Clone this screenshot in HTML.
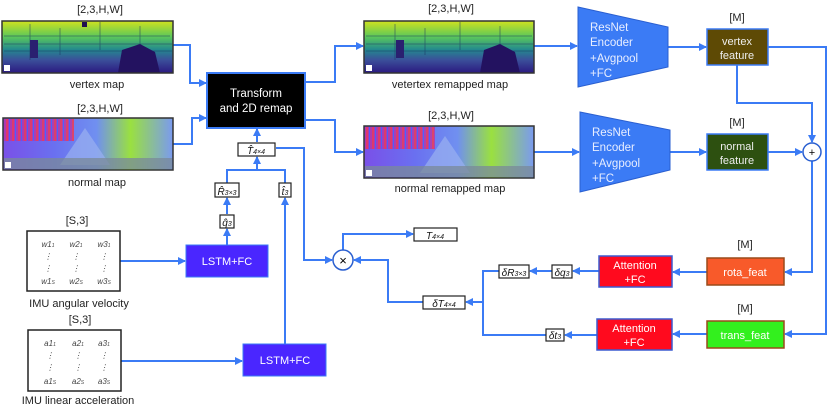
<!DOCTYPE html>
<html><head><meta charset="utf-8"><style>
html,body{margin:0;padding:0;background:#fff;}
svg{display:block;}
text{font-family:"Liberation Sans",sans-serif;}
.m{font-family:"Liberation Serif",serif;font-style:italic;}
</style></head><body>
<svg width="830" height="407" viewBox="0 0 830 407" xmlns="http://www.w3.org/2000/svg">
<defs>
<marker id="a" markerWidth="8" markerHeight="8" refX="7" refY="4" orient="auto" markerUnits="userSpaceOnUse"><path d="M0,0 L8,4 L0,8 z" fill="#3b7bf5"/></marker>
<linearGradient id="gv" x1="0" y1="0" x2="0" y2="1"><stop offset="0" stop-color="#d0e21e"/><stop offset="0.3" stop-color="#5cc85a"/><stop offset="0.55" stop-color="#23898e"/><stop offset="0.75" stop-color="#3b4f9a"/><stop offset="1" stop-color="#2b1a80"/></linearGradient>
<linearGradient id="gn" x1="0" y1="0" x2="1" y2="0"><stop offset="0" stop-color="#7a50e8"/><stop offset="0.3" stop-color="#6a70f0"/><stop offset="0.55" stop-color="#7090f0"/><stop offset="0.75" stop-color="#9ae040"/><stop offset="1" stop-color="#7a9af0"/></linearGradient>
<pattern id="stripes" width="6" height="4" patternUnits="userSpaceOnUse"><rect width="6" height="4" fill="#c030a0"/><rect width="2" height="4" fill="#ff3040"/><rect x="3" width="1" height="4" fill="#4060ff"/></pattern>
</defs>
<g fill="none" stroke="#3b7bf5" stroke-width="2">
<path d="M173,45 H190 V83 H206" marker-end="url(#a)"/>
<path d="M173,144 H192 V118 H206" marker-end="url(#a)"/>
<path d="M305,82 H335 V46 H363" marker-end="url(#a)"/>
<path d="M305,120 H335 V152 H363" marker-end="url(#a)"/>
<path d="M534,46 H577" marker-end="url(#a)"/>
<path d="M534,152 H579" marker-end="url(#a)"/>
<path d="M668,47 H706" marker-end="url(#a)"/>
<path d="M670,152 H706" marker-end="url(#a)"/>
<path d="M768,47 H826 V334 H785" marker-end="url(#a)"/>
<path d="M737,65 V103 H812 V142" marker-end="url(#a)"/>
<path d="M768,152 H802" marker-end="url(#a)"/>
<path d="M812,161 V272 H785" marker-end="url(#a)"/>
<path d="M707,272 H673" marker-end="url(#a)"/>
<path d="M707,334 H673" marker-end="url(#a)"/>
<path d="M599,271 H573" marker-end="url(#a)"/>
<path d="M552,271 H530" marker-end="url(#a)"/>
<path d="M597,335 H565" marker-end="url(#a)"/>
<path d="M499,271 H483 V335 H546"/>
<path d="M483,302 H466" marker-end="url(#a)"/>
<path d="M423,302 H388 V260 H354" marker-end="url(#a)"/>
<path d="M343,250 V234 H413" marker-end="url(#a)"/>
<path d="M276,148 H304 V260 H332" marker-end="url(#a)"/>
<path d="M257,142 V129" marker-end="url(#a)"/>
<path d="M227,183 V170 H285 V183 M257,170 V157" marker-end="url(#a)"/>
<path d="M227,214 V198" marker-end="url(#a)"/>
<path d="M227,245 V229" marker-end="url(#a)"/>
<path d="M285,344 V198" marker-end="url(#a)"/>
<path d="M120,261 H185" marker-end="url(#a)"/>
<path d="M121,361 H242" marker-end="url(#a)"/>
</g>
<!-- images -->
<g>
<rect x="2" y="21" width="171" height="52" fill="url(#gv)"/>
<g stroke="#1a3060" stroke-width="0.8" opacity="0.6"><path d="M4,36 H170 M4,44 H172 M4,51 H172 M30,24 V60 M60,28 V55 M100,22 V50 M140,26 V58"/></g>
<path d="M118,73 L122,50 L140,44 L155,52 L160,73 Z" fill="#231260"/>
<rect x="30" y="40" width="8" height="18" fill="#2a2070"/>
<rect x="82" y="22" width="5" height="5" fill="#201050"/>
<rect x="2" y="21" width="171" height="52" fill="none" stroke="#333" stroke-width="1.5"/>
<rect x="4" y="65" width="6" height="6" fill="#fff"/>
</g>
<g>
<rect x="3" y="118" width="170" height="52" fill="url(#gn)"/>
<rect x="4" y="119" width="70" height="22" fill="url(#stripes)" opacity="0.75"/>
<path d="M60,165 L85,128 L110,165 Z" fill="#9ab0f0" opacity="0.7"/>
<rect x="4" y="158" width="168" height="11" fill="#7a8a9a" opacity="0.75"/>
<rect x="3" y="118" width="170" height="52" fill="none" stroke="#333" stroke-width="1.5"/>
<rect x="5" y="162" width="6" height="6" fill="#fff"/>
</g>
<g>
<rect x="364" y="21" width="170" height="52" fill="url(#gv)"/>
<g stroke="#1a3060" stroke-width="0.8" opacity="0.6"><path d="M366,36 H532 M366,44 H533 M366,51 H533 M395,24 V60 M425,28 V55 M460,22 V50 M500,26 V58"/></g>
<path d="M480,73 L484,50 L500,44 L515,52 L520,73 Z" fill="#231260"/>
<rect x="396" y="40" width="8" height="18" fill="#2a2070"/>
<rect x="364" y="21" width="170" height="52" fill="none" stroke="#333" stroke-width="1.5"/>
<rect x="366" y="65" width="6" height="6" fill="#fff"/>
</g>
<g>
<rect x="364" y="126" width="170" height="52" fill="url(#gn)"/>
<rect x="365" y="127" width="70" height="22" fill="url(#stripes)" opacity="0.75"/>
<path d="M420,173 L445,136 L470,173 Z" fill="#9ab0f0" opacity="0.7"/>
<rect x="365" y="166" width="168" height="11" fill="#7a8a9a" opacity="0.75"/>
<rect x="364" y="126" width="170" height="52" fill="none" stroke="#333" stroke-width="1.5"/>
<rect x="366" y="170" width="6" height="6" fill="#fff"/>
</g>
<g font-size="11" fill="#222" text-anchor="middle">
<text x="100" y="13">[2,3,H,W]</text>
<text x="97" y="88">vertex map</text>
<text x="100" y="112">[2,3,H,W]</text>
<text x="97" y="186">normal map</text>
<text x="451" y="12">[2,3,H,W]</text>
<text x="450" y="88">vetertex remapped map</text>
<text x="451" y="119">[2,3,H,W]</text>
<text x="450" y="192">normal remapped map</text>
<text x="737" y="21">[M]</text>
<text x="737" y="126">[M]</text>
<text x="745" y="248">[M]</text>
<text x="745" y="312">[M]</text>
<text x="77" y="224">[S,3]</text>
<text x="79" y="307">IMU angular velocity</text>
<text x="80" y="323">[S,3]</text>
<text x="78" y="404">IMU linear acceleration</text>
</g>
<!-- transform -->
<rect x="207" y="73" width="98" height="55" fill="#000" stroke="#3b7bf5" stroke-width="2"/>
<text x="256" y="97" font-size="11.5" fill="#fff" text-anchor="middle">Transform</text>
<text x="256" y="112" font-size="11.5" fill="#fff" text-anchor="middle">and 2D remap</text>
<!-- resnets -->
<path d="M578,7 L668,27 L668,67 L578,87 Z" fill="#3b7bf5" stroke="#2a5fd0" stroke-width="1"/>
<path d="M580,112 L670,130 L670,170 L580,192 Z" fill="#3b7bf5" stroke="#2a5fd0" stroke-width="1"/>
<g font-size="11.5" fill="#e8eeff">
<text x="590" y="31">ResNet</text><text x="590" y="46">Encoder</text><text x="590" y="62">+Avgpool</text><text x="590" y="77">+FC</text>
<text x="592" y="136">ResNet</text><text x="592" y="151">Encoder</text><text x="592" y="167">+Avgpool</text><text x="592" y="182">+FC</text>
</g>
<rect x="707" y="29" width="61" height="36" fill="#5e4a05" stroke="#3b7bf5" stroke-width="1.5"/>
<rect x="707" y="134" width="61" height="36" fill="#2d5010" stroke="#3b7bf5" stroke-width="1.5"/>
<g font-size="11" fill="#eee" text-anchor="middle">
<text x="737" y="45">vertex</text><text x="737" y="59">feature</text>
<text x="737" y="150">normal</text><text x="737" y="164">feature</text>
</g>
<circle cx="812" cy="152" r="9" fill="#fff" stroke="#2a5fd0" stroke-width="1.5"/>
<text x="812" y="156" font-size="11" text-anchor="middle">+</text>
<circle cx="343" cy="260" r="10" fill="#fff" stroke="#2a5fd0" stroke-width="1.5"/>
<text x="343" y="265" font-size="13" text-anchor="middle">×</text>
<rect x="707" y="258" width="77" height="27" fill="#f85a2a" stroke="#9a4a1a" stroke-width="1.5"/>
<rect x="707" y="321" width="77" height="27" fill="#33f01e" stroke="#9a4a1a" stroke-width="1.5"/>
<text x="745" y="276" font-size="11" fill="#fff" text-anchor="middle">rota_feat</text>
<text x="745" y="339" font-size="11" fill="#fff" text-anchor="middle">trans_feat</text>
<rect x="599" y="256" width="73" height="31" fill="#ff0a1e" stroke="#3b5bd0" stroke-width="1.5"/>
<rect x="597" y="319" width="75" height="31" fill="#ff0a1e" stroke="#3b5bd0" stroke-width="1.5"/>
<g font-size="11" fill="#fff" text-anchor="middle">
<text x="635" y="269">Attention</text><text x="635" y="283">+FC</text>
<text x="634" y="332">Attention</text><text x="634" y="346">+FC</text>
</g>
<rect x="186" y="245" width="82" height="32" fill="#4a26ff" stroke="#3b7bf5" stroke-width="1"/>
<rect x="243" y="344" width="83" height="32" fill="#4a26ff" stroke="#3b7bf5" stroke-width="1"/>
<text x="227" y="265" font-size="11" fill="#fff" text-anchor="middle">LSTM+FC</text>
<text x="285" y="364" font-size="11" fill="#fff" text-anchor="middle">LSTM+FC</text>
<!-- small label boxes -->
<g fill="#fff" stroke="#222" stroke-width="1.2">
<rect x="238" y="143" width="37" height="13"/>
<rect x="215" y="183" width="24" height="14"/>
<rect x="279" y="183" width="12" height="14"/>
<rect x="220" y="215" width="14" height="13"/>
<rect x="414" y="228" width="43" height="13"/>
<rect x="499" y="265" width="30" height="13"/>
<rect x="552" y="265" width="20" height="13"/>
<rect x="423" y="296" width="42" height="13"/>
<rect x="546" y="329" width="18" height="12"/>
</g>
<g class="m" font-size="10" fill="#111" text-anchor="middle">
<text x="256" y="154">T̂<tspan font-size="7">4×4</tspan></text>
<text x="227" y="195">R̂<tspan font-size="7">3×3</tspan></text>
<text x="285" y="195">t̂<tspan font-size="7">3</tspan></text>
<text x="227" y="226">q̂<tspan font-size="7">3</tspan></text>
<text x="435" y="239">T<tspan font-size="7">4×4</tspan></text>
<text x="514" y="276">δR<tspan font-size="7">3×3</tspan></text>
<text x="562" y="276">δq<tspan font-size="7">3</tspan></text>
<text x="444" y="307">δT<tspan font-size="7">4×4</tspan></text>
<text x="555" y="339">δt<tspan font-size="7">3</tspan></text>
</g>
<!-- IMU boxes -->
<rect x="27" y="231" width="93" height="60" fill="#fff" stroke="#222" stroke-width="1.5"/>
<rect x="28" y="330" width="93" height="61" fill="#fff" stroke="#222" stroke-width="1.5"/>
<g class="m" font-size="8" fill="#444" text-anchor="middle">
<text x="48" y="247">w1<tspan font-size="5">1</tspan></text><text x="76" y="247">w2<tspan font-size="5">1</tspan></text><text x="104" y="247">w3<tspan font-size="5">1</tspan></text>
<text x="48" y="259">⋮</text><text x="76" y="259">⋮</text><text x="104" y="259">⋮</text>
<text x="48" y="271">⋮</text><text x="76" y="271">⋮</text><text x="104" y="271">⋮</text>
<text x="48" y="284">w1<tspan font-size="5">S</tspan></text><text x="76" y="284">w2<tspan font-size="5">S</tspan></text><text x="104" y="284">w3<tspan font-size="5">S</tspan></text>
<text x="50" y="346">a1<tspan font-size="5">1</tspan></text><text x="78" y="346">a2<tspan font-size="5">1</tspan></text><text x="104" y="346">a3<tspan font-size="5">1</tspan></text>
<text x="50" y="358">⋮</text><text x="78" y="358">⋮</text><text x="104" y="358">⋮</text>
<text x="50" y="370">⋮</text><text x="78" y="370">⋮</text><text x="104" y="370">⋮</text>
<text x="50" y="384">a1<tspan font-size="5">S</tspan></text><text x="78" y="384">a2<tspan font-size="5">S</tspan></text><text x="104" y="384">a3<tspan font-size="5">S</tspan></text>
</g>
</svg>
</body></html>
